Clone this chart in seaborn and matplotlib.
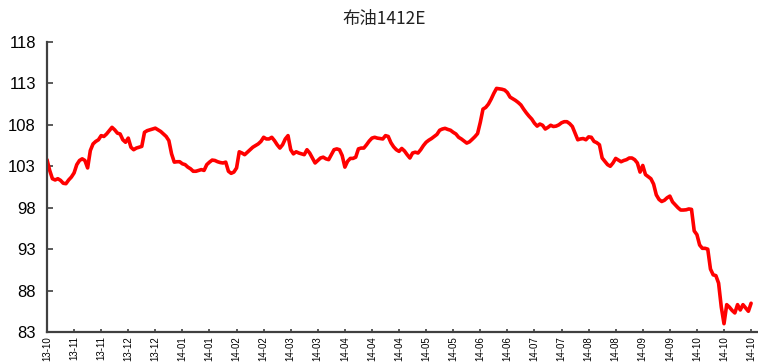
import matplotlib
matplotlib.use("Agg")
import matplotlib.pyplot as plt
import seaborn as sns
import pandas as pd

title = "布油1412E"

tick_labels = ["13-10", "13-11", "13-11", "13-12", "13-12", "14-01", "14-01",
               "14-02", "14-02", "14-03", "14-03", "14-04", "14-04", "14-04",
               "14-05", "14-05", "14-06", "14-06", "14-07", "14-07", "14-08",
               "14-08", "14-09", "14-09", "14-10", "14-10", "14-10"]

prices = [
    103.8, 102.5, 101.5, 101.35, 101.5, 101.3, 100.95, 100.9, 101.35, 101.7,
    102.2, 103.2, 103.7, 103.9, 103.7, 102.8, 104.9, 105.7, 106.0, 106.2,
    106.7, 106.6, 106.9, 107.3, 107.7, 107.4, 107.0, 106.9, 106.2, 105.9,
    106.4, 105.3, 105.0, 105.2, 105.3, 105.4, 107.1, 107.3, 107.4, 107.5,
    107.6, 107.4, 107.2, 106.9, 106.6, 106.1, 104.5, 103.5, 103.55, 103.55,
    103.3, 103.2, 102.9, 102.7, 102.4, 102.4, 102.5, 102.6, 102.5, 103.2,
    103.5, 103.75, 103.7, 103.55, 103.45, 103.4, 103.5, 102.4, 102.15, 102.3,
    102.8, 104.75, 104.6, 104.4, 104.7, 105.0, 105.3, 105.5, 105.7, 106.0,
    106.5, 106.3, 106.3, 106.5, 106.1, 105.6, 105.2, 105.6, 106.3, 106.7,
    105.0, 104.5, 104.75, 104.6, 104.5, 104.4, 105.0, 104.6, 104.0, 103.4,
    103.7, 104.0, 104.1, 103.9, 103.8, 104.4, 105.0, 105.1, 105.0, 104.3,
    102.9, 103.6, 103.95, 103.95, 104.1, 105.1, 105.2, 105.2, 105.6, 106.05,
    106.4, 106.5, 106.4, 106.35, 106.3, 106.7, 106.6, 105.85, 105.35, 105.0,
    104.8, 105.15, 104.85, 104.4, 104.0, 104.6, 104.7, 104.6, 105.0, 105.5,
    105.9, 106.15, 106.35, 106.6, 106.85, 107.35, 107.5, 107.58, 107.45, 107.35,
    107.1, 106.9, 106.5, 106.3, 106.05, 105.8, 105.95, 106.25, 106.57, 106.95,
    108.3, 109.9, 110.1, 110.5, 111.1, 111.8, 112.4, 112.35, 112.3, 112.2,
    111.9, 111.35, 111.15, 110.95, 110.7, 110.4, 109.9, 109.45, 109.05, 108.7,
    108.2, 107.85, 108.1, 107.95, 107.5, 107.7, 107.95, 107.8, 107.85, 108.0,
    108.25, 108.38, 108.38, 108.15, 107.8, 107.0, 106.2, 106.3, 106.35, 106.2,
    106.55, 106.5, 106.0, 105.85, 105.6, 104.0, 103.6, 103.2, 103.0, 103.4,
    103.95, 103.75, 103.55, 103.7, 103.8, 104.0, 104.0, 103.8, 103.4, 102.3,
    103.1, 102.0, 101.75, 101.5, 100.85, 99.55, 99.0, 98.75, 98.9, 99.2,
    99.4, 98.7, 98.35, 98.0, 97.72, 97.72, 97.75, 97.85, 97.8, 95.2,
    94.75, 93.5, 93.1, 93.1, 93.0, 90.6, 89.9, 89.8, 88.9, 86.0,
    84.0, 86.3, 86.0, 85.6, 85.3, 86.3, 85.66, 86.3, 85.9, 85.5,
    86.47,
]

y_ticks = [83, 88, 93, 98, 103, 108, 113, 118]

df = pd.DataFrame({"idx": range(len(prices)), "price": prices})

sns.set_theme(style="white")
plt.rcParams['font.family'] = ['Liberation Sans', 'DejaVu Sans']

fig = plt.figure(figsize=(7.58, 3.62), dpi=100)
ax = fig.add_axes([47 / 758, 1 - 332 / 362, (756.5 - 47) / 758, (332 - 42) / 362])

sns.lineplot(data=df, x="idx", y="price", ax=ax, color="#FF0000", linewidth=2.6)

ax.set_xlim(0, 262)
ax.set_ylim(83, 118)
ax.set_yticks(y_ticks)
ax.set_yticklabels([str(v) for v in y_ticks], fontsize=12, color="#000000")
ax.set_xticks(list(range(0, 10 * len(tick_labels), 10)))
ax.set_xticklabels(tick_labels, rotation=90, fontsize=7, color="#000000")
ax.set_xlabel("")
ax.set_ylabel("")

for side in ["top", "right"]:
    ax.spines[side].set_visible(False)
for side in ["left", "bottom"]:
    ax.spines[side].set_color("#404040")
    ax.spines[side].set_linewidth(1.6)

ax.tick_params(axis="y", direction="in", length=4, width=1.2, color="#404040", pad=8, left=True)
ax.tick_params(axis="x", direction="in", length=2, width=1.2, color="#404040", pad=3, bottom=True)

fig.text(384 / 758, 1 - 19 / 362, title, ha="center", va="center", fontsize=12.5,
         family=['Noto Sans CJK SC', 'DejaVu Sans'], color="#222222")

fig.savefig("out.png", dpi=100)
